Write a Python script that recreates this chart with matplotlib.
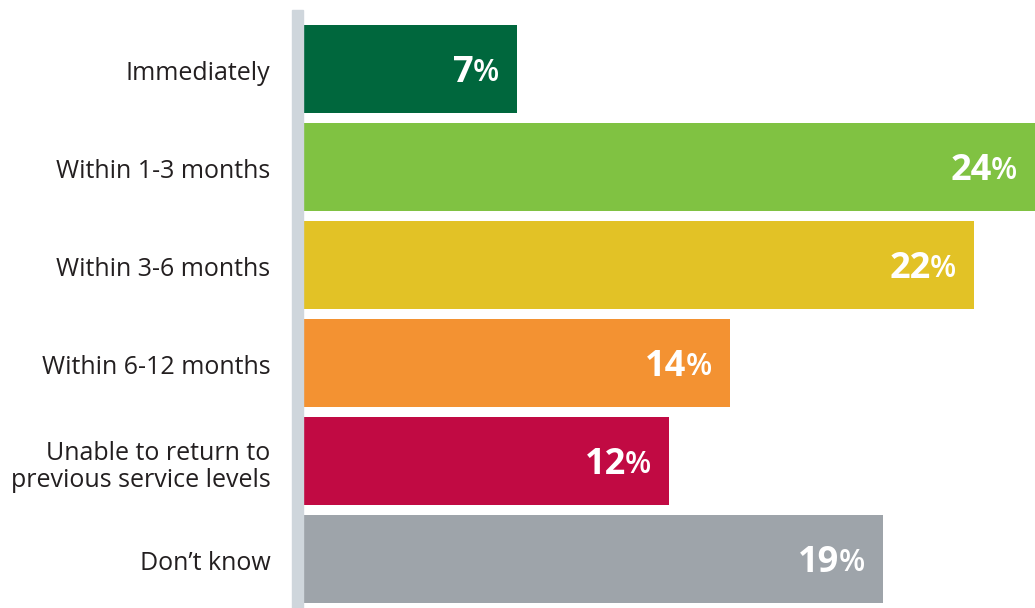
import matplotlib.pyplot as plt
from matplotlib.patches import Rectangle
from matplotlib.transforms import ScaledTranslation

# ---- DATA ----
categories = [
    "Immediately",
    "Within 1-3 months",
    "Within 3-6 months",
    "Within 6-12 months",
    "Unable to return to\nprevious service levels",
    "Don\u2019t know",
]
values = [7, 24, 22, 14, 12, 19]
colors = ["#00673d", "#80c242", "#e2c226", "#f39232", "#c10a43", "#9ea4aa"]

FONT = "Open Sans"

# ---- FIGURE ----
W, H = 1035, 608
fig = plt.figure(figsize=(W / 100, H / 100), dpi=100)
ax = fig.add_axes([303 / W, 0, 1 - 303 / W, (H - 10) / H])

ypos = list(range(len(categories)))
ax.barh(ypos, values, height=88 / 98, color=colors, zorder=2)

ax.set_xlim(0, 24)
ax.set_ylim(5.5, -0.602)
ax.set_yticks(ypos)
ax.set_yticklabels(categories, fontsize=18, color="#231f20", family=FONT,
                   linespacing=1.1)
ax.tick_params(axis="y", length=0, pad=23.5)
ax.set_xticks([])
for s in ax.spines.values():
    s.set_visible(False)
shift = ScaledTranslation(0, -2 / 100, fig.dpi_scale_trans)
for lbl in ax.get_yticklabels():
    lbl.set_horizontalalignment("right")
    lbl.set_transform(lbl.get_transform() + shift)

# light gray vertical bar at the left edge of the bars
fig.patches.append(Rectangle((292 / W, 0), 11 / W, (H - 10) / H,
                             transform=fig.transFigure, color="#cfd6dc",
                             zorder=1))

# ---- VALUE LABELS: big bold number + smaller % ----
fig.canvas.draw()
renderer = fig.canvas.get_renderer()
for y, v in zip(ypos, values):
    xd, yd = ax.transData.transform((v, y))
    pct = ax.annotate("%", xy=(xd - 18, yd - 4), xycoords="figure pixels",
                      ha="right", va="center", fontsize=22, color="white",
                      family=FONT, fontweight="semibold")
    bb = pct.get_window_extent(renderer)
    ax.annotate(str(v), xy=(bb.x0 + 1, yd - 4), xycoords="figure pixels",
                ha="right", va="center", fontsize=26, color="white",
                family=FONT, fontweight="bold")

fig.savefig("out.png", dpi=100)
